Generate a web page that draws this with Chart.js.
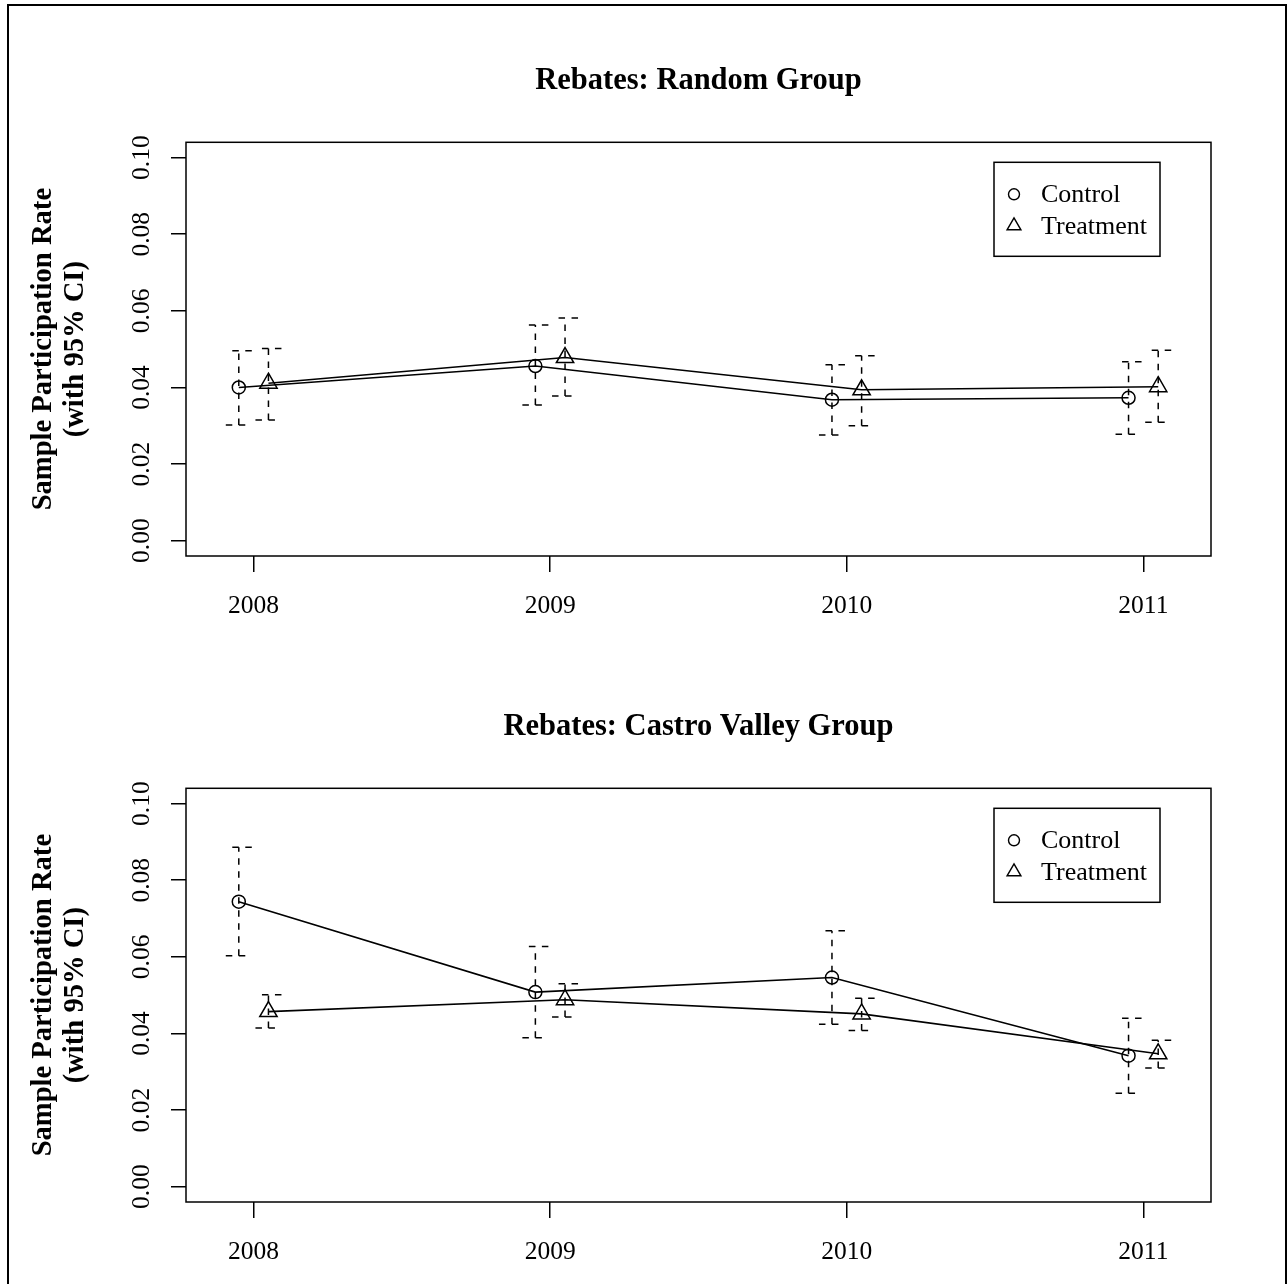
<!DOCTYPE html>
<html>
<head>
<meta charset="utf-8">
<title>Rebates participation</title>
<script src="https://cdn.jsdelivr.net/npm/chart.js@4.4.1/dist/chart.umd.min.js"></script>
<style>
    body { margin: 0; background: #fff; }
    #page { position: relative; width: 1288px; height: 1284px; overflow: hidden; background: #fff; }
    #frame { position: absolute; left: 7px; top: 4px; width: 1276px; height: 1300px; border: 2px solid #000; }
    .panel { position: absolute; left: 0; }
</style>
</head>
<body>
<div id="page">
    <div id="frame"></div>
    <canvas id="randomChart" class="panel" style="top:0" width="1288" height="646"></canvas>
    <canvas id="castroChart" class="panel" style="top:646px" width="1288" height="646"></canvas>
</div>
<script>
// Data
const years = [2008, 2009, 2010, 2011];
const yTicks = [0, 0.02, 0.04, 0.06, 0.08, 0.10];
const seriesNames = ['Control', 'Treatment'];

// Random group
const randomControl = [0.0400, 0.0456, 0.0368, 0.0373];
const randomControlLow = [0.0302, 0.0354, 0.0276, 0.0278];
const randomControlHigh = [0.0496, 0.0563, 0.0459, 0.0467];
const randomTreatment = [0.0411, 0.0478, 0.0394, 0.0402];
const randomTreatmentLow = [0.0315, 0.0378, 0.0300, 0.0309];
const randomTreatmentHigh = [0.0502, 0.0581, 0.0483, 0.0497];

// Castro Valley group
const castroControl = [0.0744, 0.0508, 0.0546, 0.0342];
const castroControlLow = [0.0603, 0.0389, 0.0424, 0.0244];
const castroControlHigh = [0.0886, 0.0627, 0.0668, 0.0440];
const castroTreatment = [0.0457, 0.0488, 0.0451, 0.0347];
const castroTreatmentLow = [0.0414, 0.0443, 0.0408, 0.0310];
const castroTreatmentHigh = [0.0501, 0.0530, 0.0492, 0.0382];

const SERIF = '"Liberation Serif", "Times New Roman", serif';
const DODGE = 0.05; // control drawn a bit left, treatment a bit right

// Dashed confidence interval bars with caps
const ciBars = {
    id: 'ciBars',
    beforeDatasetsDraw(chart) {
        const { ctx, scales: { x, y } } = chart;
        ctx.save();
        ctx.strokeStyle = '#000';
        ctx.lineWidth = 1.5;
        ctx.setLineDash([6.5, 6.5]);
        chart.data.datasets.forEach(ds => {
            ds.data.forEach((pt, i) => {
                const px = x.getPixelForValue(pt.x);
                const lo = y.getPixelForValue(ds.ciLow[i]);
                const hi = y.getPixelForValue(ds.ciHigh[i]);
                ctx.beginPath();
                ctx.moveTo(px, lo);
                ctx.lineTo(px, hi);
                ctx.stroke();
                ctx.beginPath();
                ctx.moveTo(px + 13, hi);
                ctx.lineTo(px - 13, hi);
                ctx.stroke();
                ctx.beginPath();
                ctx.moveTo(px - 13, lo);
                ctx.lineTo(px + 13, lo);
                ctx.stroke();
            });
        });
        ctx.restore();
    }
};

// Box around the plotting region
const plotBox = {
    id: 'plotBox',
    afterDraw(chart) {
        const { ctx, chartArea: a } = chart;
        ctx.save();
        ctx.strokeStyle = '#000';
        ctx.lineWidth = 1.5;
        ctx.strokeRect(a.left, a.top, a.right - a.left, a.bottom - a.top);
        ctx.restore();
    }
};

// R-style boxed legend in the top right corner
function drawSymbol(ctx, style, r, cx, cy) {
    ctx.beginPath();
    if (style === 'triangle') {
        for (let k = 0; k < 3; k++) {
            const ang = k * 2 * Math.PI / 3;
            const vx = cx + Math.sin(ang) * r;
            const vy = cy - Math.cos(ang) * r;
            if (k === 0) ctx.moveTo(vx, vy); else ctx.lineTo(vx, vy);
        }
        ctx.closePath();
    } else {
        ctx.arc(cx, cy, r, 0, Math.PI * 2);
    }
    ctx.stroke();
}

const boxLegend = {
    id: 'boxLegend',
    afterDraw(chart) {
        const { ctx, chartArea } = chart;
        const w = 166, h = 94;
        const left = chartArea.right - 51 - w;
        const top = chartArea.top + 20;
        ctx.save();
        ctx.strokeStyle = '#000';
        ctx.fillStyle = '#fff';
        ctx.lineWidth = 1.5;
        ctx.fillRect(left, top, w, h);
        ctx.strokeRect(left, top, w, h);
        ctx.font = '26px ' + SERIF;
        ctx.textBaseline = 'middle';
        chart.data.datasets.forEach((ds, i) => {
            const cy = top + 32 + i * 31.5;
            ctx.lineWidth = 1.4;
            drawSymbol(ctx, ds.pointStyle, ds.legendRadius, left + 20, cy);
            ctx.fillStyle = '#000';
            ctx.fillText(ds.label, left + 47, cy + 1);
        });
        ctx.restore();
    }
};

function makeDataset(label, values, low, high, shift, style, radius, legendRadius) {
    return {
        label: label,
        data: years.map((yr, i) => ({ x: yr + shift, y: values[i] })),
        ciLow: low,
        ciHigh: high,
        showLine: true,
        borderColor: '#000',
        borderWidth: 1.6,
        backgroundColor: 'rgba(0,0,0,0)',
        pointStyle: style,
        pointRadius: radius,
        pointBorderWidth: 1.5,
        pointBorderColor: '#000',
        pointBackgroundColor: 'rgba(0,0,0,0)',
        legendRadius: legendRadius,
        tension: 0
    };
}

function createPanel(canvasId, title, control, controlLow, controlHigh, treatment, treatmentLow, treatmentHigh) {
    const ctx = document.getElementById(canvasId).getContext('2d');
    return new Chart(ctx, {
        type: 'scatter',
        data: {
            datasets: [
                makeDataset(seriesNames[0], control, controlLow, controlHigh, -DODGE, 'circle', 6.5, 5.5),
                makeDataset(seriesNames[1], treatment, treatmentLow, treatmentHigh, DODGE, 'triangle', 10, 8)
            ]
        },
        options: {
            responsive: false,
            animation: false,
            layout: {
                padding: { left: 20, right: 77, top: 40, bottom: 10 }
            },
            scales: {
                x: {
                    type: 'linear',
                    min: 2007.772,
                    max: 2011.228,
                    afterBuildTicks: s => { s.ticks = years.map(v => ({ value: v })); },
                    afterFit: s => { s.height = 80; },
                    border: { display: false },
                    grid: {
                        drawOnChartArea: false,
                        drawTicks: true,
                        tickLength: 16,
                        color: '#000',
                        lineWidth: 1.5
                    },
                    ticks: {
                        color: '#000',
                        padding: 19,
                        maxRotation: 0,
                        font: { family: SERIF, size: 25.5 },
                        callback: v => String(v)
                    }
                },
                y: {
                    type: 'linear',
                    min: -0.004,
                    max: 0.104,
                    afterBuildTicks: s => { s.ticks = yTicks.map(v => ({ value: v })); },
                    afterFit: s => { s.width = 166; },
                    border: { display: false },
                    grid: {
                        drawOnChartArea: false,
                        drawTicks: true,
                        tickLength: 15,
                        color: '#000',
                        lineWidth: 1.5
                    },
                    ticks: {
                        color: '#000',
                        minRotation: 90,
                        maxRotation: 90,
                        crossAlign: 'center',
                        padding: 6,
                        font: { family: SERIF, size: 25.5 },
                        callback: v => v.toFixed(2)
                    },
                    title: {
                        display: true,
                        text: ['Sample Participation Rate', '(with 95% CI)'],
                        color: '#000',
                        font: { family: SERIF, size: 28.6, weight: 'bold', lineHeight: 32 / 28.6 },
                        padding: { top: 8, bottom: 0 }
                    }
                }
            },
            plugins: {
                legend: { display: false },
                tooltip: { enabled: false },
                title: {
                    display: true,
                    text: title,
                    fullSize: false,
                    color: '#000',
                    font: { family: SERIF, size: 30.5, weight: 'bold', lineHeight: 1.2 },
                    padding: { top: 22.7, bottom: 43 }
                }
            }
        },
        plugins: [ciBars, plotBox, boxLegend]
    });
}

createPanel('randomChart', 'Rebates: Random Group',
    randomControl, randomControlLow, randomControlHigh,
    randomTreatment, randomTreatmentLow, randomTreatmentHigh);

createPanel('castroChart', 'Rebates: Castro Valley Group',
    castroControl, castroControlLow, castroControlHigh,
    castroTreatment, castroTreatmentLow, castroTreatmentHigh);
</script>
</body>
</html>
